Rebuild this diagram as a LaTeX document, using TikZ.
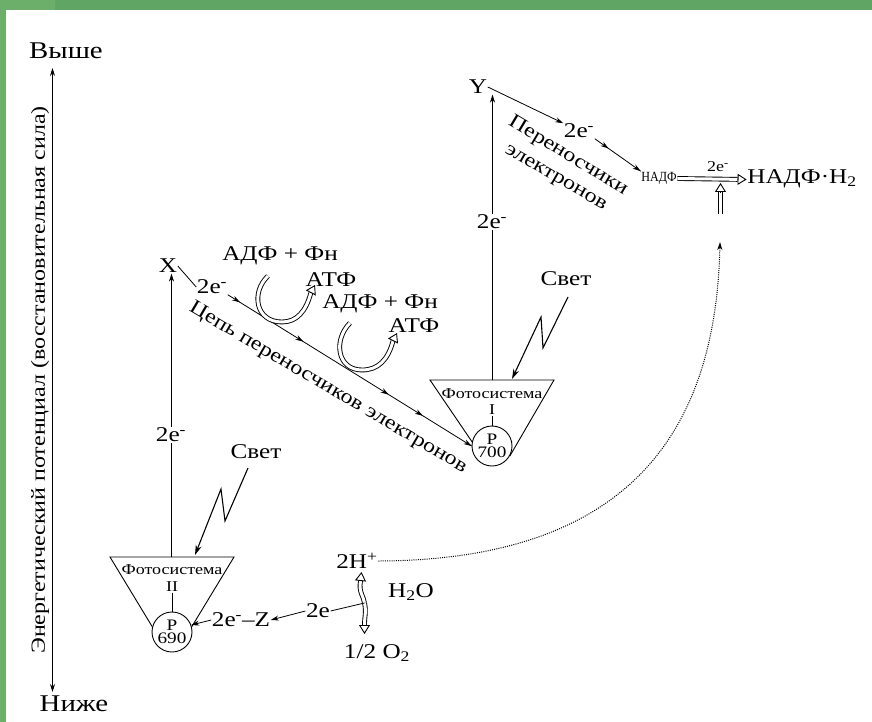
\documentclass[tikz,border=0pt]{standalone}
\usepackage{fontspec}
\setmainfont[FakeStretch=1.2]{Liberation Serif}
\usetikzlibrary{arrows.meta,decorations.markings,calc}
\definecolor{gdark}{RGB}{96,165,100}
\definecolor{glight}{RGB}{107,175,107}
\begin{document}
\begin{tikzpicture}[x=1pt,y=-1pt,
  lbl/.style={font=\fontsize{21}{24}\selectfont, inner sep=0.5pt},
  big/.style={font=\fontsize{24}{26}\selectfont, inner sep=0.5pt},
  sml/.style={font=\fontsize{15}{16}\selectfont, inner sep=0.5pt},
  ln/.style={line width=0.8pt},
  arr/.style={ln, -{Stealth[length=8pt,width=5pt]}},
  bolt/.style={line width=1.1pt, -{Stealth[length=10pt,width=6pt]}},
  hbody/.style={line width=0.9pt, double=white, double distance=3pt},
  hhead/.style={line width=0.9pt, -{Triangle[open,length=9pt,width=11pt]}},
  ps/.style={circle, draw, line width=0.9pt, fill=white, minimum size=40pt, inner sep=0pt, align=center, font=\fontsize{16}{13}\selectfont},
  chainA/.style={ln, decoration={markings,
      mark=at position 0.05 with {\arrow{Stealth[length=8pt,width=5pt]}},
      mark=at position 0.31 with {\arrow{Stealth[length=8pt,width=5pt]}},
      mark=at position 0.66 with {\arrow{Stealth[length=8pt,width=5pt]}},
      mark=at position 0.80 with {\arrow{Stealth[length=8pt,width=5pt]}},
      mark=at position 1 with {\arrow{Stealth[length=8pt,width=5pt]}}},
    postaction={decorate}},
  chainB/.style={ln, decoration={markings,
      mark=at position 0.3 with {\arrow{Stealth[length=8pt,width=5pt]}},
      mark=at position 1 with {\arrow{Stealth[length=8pt,width=5pt]}}},
    postaction={decorate}},
  trap/.style={line width=0.9pt}
]
\useasboundingbox (0,0) rectangle (872,722);
% frame
\fill[gdark] (0,0) rectangle (872,722);
\fill[glight] (0,0) rectangle (55,10);
\fill[glight] (0,0) rectangle (6,722);
\fill[white] (6,10) rectangle (872,722);

% axis
\node[big] (hi) at (66,51) {Выше};
\node[big] (lo) at (74,704) {Ниже};
\coordinate (axt) at (52.5,68);
\coordinate (axb) at (52.5,692);
\draw[ln, {Stealth[length=8pt,width=5pt]}-{Stealth[length=8pt,width=5pt]}] (axb) -- (axt);
\node[font=\fontsize{20}{22}\selectfont, rotate=90, inner sep=0pt] (axl) at (40,380)
  {Энергетический потенциал (восстановительная сила)};

% Photosystem II
\node[ps] (p690) at (172,632) {P\\690};
\coordinate (ps2l) at (110,557);
\coordinate (ps2r) at (234,557);
\coordinate (ps2t) at (171.5,557);
\draw[trap] (p690.165) -- (ps2l) -- (ps2r) -- (p690.15);
\node[sml] (fs2) at (172,570) {Фотосистема};
\node[sml] (fs2n) at (172,587) {II};
\draw[ln] (fs2n.south) -- (p690.north);

% Photosystem I
\node[ps] (p700) at (492,446) {P\\700};
\coordinate (ps1l) at (430,380);
\coordinate (ps1r) at (554,380);
\coordinate (ps1t) at (492.5,380);
\draw[trap] (p700.168) -- (ps1l) -- (ps1r) -- (p700.-30);
\node[sml] (fs1) at (492,394) {Фотосистема};
\node[sml] (fs1n) at (492,410) {I};
\draw[ln] (fs1n.south) -- (p700.north);

% X branch
\node[lbl] (X) at (168,266) {X};
\draw[arr] (ps2t) -- (ps2t |- X.south);
\node[lbl, fill=white] (e1) at (171,435) {2e\textsuperscript{-}};
\node[lbl] (e2) at (212,287) {2e\textsuperscript{-}};
\draw[ln] (X.east) -- (e2.west);
\draw[chainA] (e2.south east) -- (p700.west);
\node[font=\fontsize{20}{22}\selectfont, inner sep=0.5pt, rotate=-30.5] (chl) at (328,388) {Цепь переносчиков электронов};

% ATP
\node[lbl] (adp1) at (280,256) {АДФ + Фн};
\node[lbl] (atp1) at (331,280) {АТФ};
\node[lbl] (adp2) at (380,304) {АДФ + Фн};
\node[lbl] (atp2) at (414,326) {АТФ};
\coordinate (u1t) at (315,285);
\coordinate (u1b) at ($(u1t)!9pt!(305,304)$);
\draw[hbody] (268,276) .. controls (251,292) and (255,322) .. (282,322) .. controls (297,322) and (306,311) .. (u1b);
\draw[hhead] (u1b) -- (u1t);
\coordinate (u2t) at (397,333);
\coordinate (u2b) at ($(u2t)!9pt!(388,351)$);
\draw[hbody] (350,323) .. controls (333,340) and (337,370) .. (362,370) .. controls (378,370) and (388,360) .. (u2b);
\draw[hhead] (u2b) -- (u2t);

% Y branch
\node[lbl] (Y) at (478,87) {Y};
\draw[arr] (ps1t) -- (ps1t |- Y.south);
\node[lbl, fill=white] (e3) at (492,222) {2e\textsuperscript{-}};
\node[lbl] (e4) at (579,131) {2e\textsuperscript{-}};
\draw[arr] (Y.east) -- (e4.north west);
\node[font=\fontsize{14}{14}\selectfont, inner sep=0.5pt] (nadp) at (659,178) {\scalebox{0.72}[1]{НАДФ}};
\draw[chainB] (e4.south east) -- (nadp.north west);
\node[font=\fontsize{20}{22}\selectfont, inner sep=0.5pt, rotate=-31] (per1) at (568,156) {Переносчики};
\node[font=\fontsize{20}{22}\selectfont, inner sep=0.5pt, rotate=-30] (per2) at (555,179) {электронов};
\node[lbl] (nadph) at (802,179) {НАДФ·Н\textsubscript{2}};
\node[sml] (e5) at (718,167) {2e\textsuperscript{-}};
\coordinate (nt) at ($(nadph.west)+(0,0.5)$);
\coordinate (ns) at ($(nadp.east)+(0,0.5)$);
\coordinate (nb) at ($(nt)!9pt!(ns)$);
\draw[hbody] (ns) -- (nb);
\draw[hhead] (nb) -- (nt);
\coordinate (vt) at (720.5,183);
\coordinate (vs) at (720.5,214);
\coordinate (vb) at ($(vt)!9pt!(vs)$);
\draw[hbody] (vs) -- (vb);
\draw[hhead] (vb) -- (vt);

% Light
\node[lbl] (sv2) at (256,452) {Свет};
\coordinate (l2a) at (248,468);
\coordinate (l2b) at (225,521);
\coordinate (l2c) at (221,489);
\coordinate (l2d) at (195,555);
\draw[bolt] (l2a) -- (l2b) -- (l2c) -- (l2d);
\node[lbl] (sv1) at (566,279) {Свет};
\coordinate (l1a) at (568,297);
\coordinate (l1b) at (543,348);
\coordinate (l1c) at (541,317);
\coordinate (l1d) at (512,379);
\draw[bolt] (l1a) -- (l1b) -- (l1c) -- (l1d);

% water
\node[lbl] (h2) at (357,561) {2H\textsuperscript{+}};
\node[lbl] (h2o) at (411,592) {H\textsubscript{2}O};
\node[lbl] (o2) at (377,653) {1/2 O\textsubscript{2}};
\node[lbl] (e6) at (318,611) {2e};
\node[lbl] (ez) at (241,620) {2e\textsuperscript{-}–Z};
\coordinate (ws) at (364.5,603);
\coordinate (wut) at (361.5,572);
\coordinate (wub) at ($(wut)!9pt!(359.5,590)$);
\draw[hbody] (ws) .. controls (363.5,596) and (358.5,592) .. (wub);
\draw[hhead] (wub) -- (wut);
\coordinate (wdt) at (364.5,634);
\coordinate (wdb) at ($(wdt)!9pt!(ws)$);
\draw[hbody] (ws) .. controls (366.5,612) and (364.5,616) .. (wdb);
\draw[hhead] (wdb) -- (wdt);
\draw[ln] (ws) -- (e6.east);
\draw[arr] (e6.west) -- (ez.east);
\draw[arr] (ez.west) -- (p690.20);

% dotted
\coordinate (dt) at (720,242);
\draw[line width=1pt, dash pattern=on 1pt off 1.2pt, -{Stealth[length=8pt,width=5pt]}] (h2.east) .. controls (640,560) and (716,420) .. (dt);
\end{tikzpicture}
\end{document}
